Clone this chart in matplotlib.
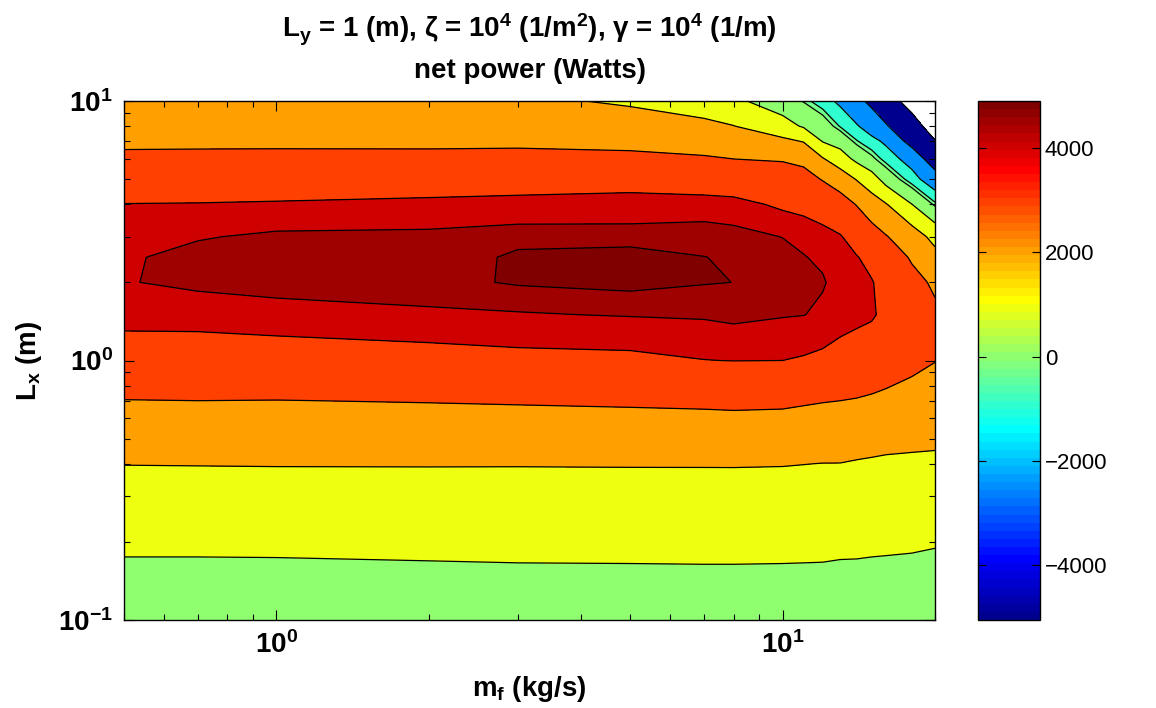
import numpy as np
import matplotlib
matplotlib.use("Agg")
import matplotlib.pyplot as plt
from matplotlib.colors import ListedColormap, Normalize
from matplotlib.cm import ScalarMappable

# ---------------------------------
# Grid: mass flow rate (kg/s) and channel length L_x (m)
# ---------------------------------
m_f = [0.5, 0.7, 1, 2, 3, 5, 7, 8, 10, 11, 12, 13, 14, 15, 16, 18, 20]
L_x = [0.1, 0.15, 0.2, 0.3, 0.4, 0.5, 0.7, 1.0, 1.5, 2.0, 2.5, 3.0, 4.0, 5.0, 6.0, 7.0, 8.0, 10.0]

# net power (W) along L_x, one list per m_f value
p_m0_5 = [620, 860, 1140, 1620, 2020, 2360, 2985, 3700, 4200, 4470, 4460, 4350, 4010, 3600, 3170, 2830, 2580, 2150]
p_m0_7 = [630, 850, 1150, 1630, 2030, 2370, 3000, 3720, 4200, 4630, 4610, 4470, 4020, 3620, 3180, 2840, 2590, 2170]
p_m1 = [640, 852, 1160, 1640, 2040, 2380, 2990, 3700, 4315, 4700, 4690, 4580, 4050, 3600, 3180, 2850, 2600, 2180]
p_m2 = [680, 877, 1200, 1680, 2040, 2420, 3040, 3770, 4440, 4707, 4638, 4600, 4110, 3660, 3230, 2800, 2560, 2150]
p_m3 = [700, 896, 1220, 1700, 2035, 2450, 3080, 3850, 4470, 4840, 4860, 4690, 4150, 3700, 3250, 2820, 2570, 2140]
p_m5 = [720, 901, 1230, 1720, 2040, 2480, 3130, 3880, 4530, 4916, 4920, 4670, 4200, 3740, 3200, 2740, 2380, 1880]
p_m7 = [730, 907, 1240, 1730, 2040, 2500, 3170, 3990, 4570, 4820, 4805, 4680, 4260, 3500, 3080, 2600, 2200, 1500]
p_m8 = [730, 907, 1240, 1740, 2040, 2510, 3200, 4010, 4650, 4798, 4760, 4640, 4200, 3460, 2990, 2480, 2020, 1180]
p_m10 = [720, 901, 1230, 1720, 2030, 2490, 3170, 4000, 4540, 4660, 4640, 4490, 3870, 3410, 2920, 2200, 1350, 470]
p_m11 = [700, 901, 1210, 1700, 2010, 2450, 3100, 3950, 4510, 4620, 4520, 4380, 3750, 3290, 2780, 1950, 900, -50]
p_m12 = [680, 902, 1190, 1670, 1990, 2410, 3040, 3880, 4420, 4540, 4420, 4200, 3600, 2950, 2050, 950, 430, -610]
p_m13 = [660, 877, 1170, 1650, 1990, 2350, 3000, 3800, 4230, 4330, 4230, 4040, 3400, 2500, 1450, 600, -300, -1230]
p_m14 = [650, 875, 1160, 1620, 1950, 2300, 2960, 3700, 4160, 4150, 4030, 3720, 2960, 1950, 750, -200, -900, -2070]
p_m15 = [630, 860, 1140, 1600, 1920, 2260, 2900, 3600, 4080, 4030, 3820, 3400, 2400, 1450, 150, -700, -1600, -2900]
p_m16 = [610, 859, 1120, 1570, 1890, 2220, 2840, 3450, 3820, 3800, 3530, 3050, 2050, 600, -500, -1200, -2350, -3900]
p_m18 = [560, 853, 1090, 1540, 1860, 2190, 2750, 3200, 3500, 3250, 2900, 2450, 1010, -590, -1500, -3110, -4000, -6000]
p_m20 = [500, 823, 1050, 1520, 1850, 2150, 2650, 3020, 3130, 2870, 2260, 1720, -130, -1770, -3510, -4900, -6200, -8800]

levels = [-5000, -2500, -1000, -250, 0, 1000, 2000, 3000, 4000, 4500, 4800]
c_lim = [-5055, 4902]
cbar_ticks = [-4000, -2000, 0, 2000, 4000]

net_power = np.column_stack([p_m0_5, p_m0_7, p_m1, p_m2, p_m3, p_m5, p_m7, p_m8, p_m10,
                             p_m11, p_m12, p_m13, p_m14, p_m15, p_m16, p_m18, p_m20])
X, Y = np.meshgrid(m_f, L_x)


# ---------------------------------
# MATLAB style jet colormap
# ---------------------------------
def jet_matlab(m=64):
    n = int(np.ceil(m / 4))
    u = np.r_[np.arange(1, n + 1) / n, np.ones(n - 1), np.arange(n, 0, -1) / n]
    g = int(np.ceil(n / 2)) - int(m % 4 == 1) + np.arange(1, len(u) + 1)
    r = g + n
    b = g - n
    J = np.zeros((m, 3))
    J[r[r <= m] - 1, 0] = u[r <= m]
    J[g[g <= m] - 1, 1] = u[g <= m]
    J[b[b >= 1] - 1, 2] = u[b >= 1]
    return J


jet = jet_matlab(64)
# each band takes the colour of its lower level
idx = np.clip(((np.array(levels) - c_lim[0]) / (c_lim[1] - c_lim[0]) * 64).astype(int), 0, 63)
band_colors = [tuple(jet[i]) for i in idx]

# ---------------------------------
# Fonts
# ---------------------------------
plt.rcParams["font.family"] = ["Liberation Sans", "DejaVu Sans"]
plt.rcParams["font.weight"] = "bold"
plt.rcParams["mathtext.fontset"] = "custom"
plt.rcParams["mathtext.rm"] = "Liberation Sans:bold"
plt.rcParams["mathtext.it"] = "Liberation Sans:bold"
plt.rcParams["mathtext.bf"] = "Liberation Sans:bold"

# ---------------------------------
# Figure
# ---------------------------------
fig = plt.figure(figsize=(11.56, 7.08), dpi=100)
ax = fig.add_axes([124 / 1156, 88 / 708, 811 / 1156, 519 / 708])

top = net_power.max() + 1
ax.contourf(X, Y, net_power, levels=levels + [top], colors=band_colors)
ax.contour(X, Y, net_power, levels=levels, colors="k", linewidths=0.9, linestyles="solid")

ax.set_xscale("log")
ax.set_yscale("log")
ax.set_xlim(0.5, 20)
ax.set_ylim(0.1, 10)

ax.tick_params(which="both", direction="in", top=True, right=True, labelsize=20, width=0.8)
ax.tick_params(which="major", length=7, pad=8)
ax.tick_params(which="minor", length=4)
for s in ax.spines.values():
    s.set_linewidth(1.0)

ax.set_xlabel("m$_f$ (kg/s)", fontsize=20, fontweight="bold", labelpad=11)
ax.set_ylabel("L$_x$ (m)", fontsize=20, fontweight="bold", labelpad=10)

fig.text(529.5 / 1156, 1 - 37 / 708,
         "L$_y$ = 1 (m), \u03b6 = 10$^4$ (1/m$^2$), \u03b3 = 10$^4$ (1/m)",
         ha="center", va="baseline", fontsize=20)
fig.text(529.5 / 1156, 1 - 78 / 708, "net power (Watts)",
         ha="center", va="baseline", fontsize=20)

# ---------------------------------
# Colorbar
# ---------------------------------
cax = fig.add_axes([978 / 1156, 88 / 708, 62 / 1156, 519 / 708])
sm = ScalarMappable(norm=Normalize(*c_lim), cmap=ListedColormap(jet))
cb = fig.colorbar(sm, cax=cax, ticks=cbar_ticks)
cax.tick_params(direction="in", left=True, right=True, length=6, width=0.8, labelsize=16)
for t in cax.get_yticklabels():
    t.set_fontweight("normal")
cb.outline.set_linewidth(1.0)

fig.savefig("out.png", dpi=100)
